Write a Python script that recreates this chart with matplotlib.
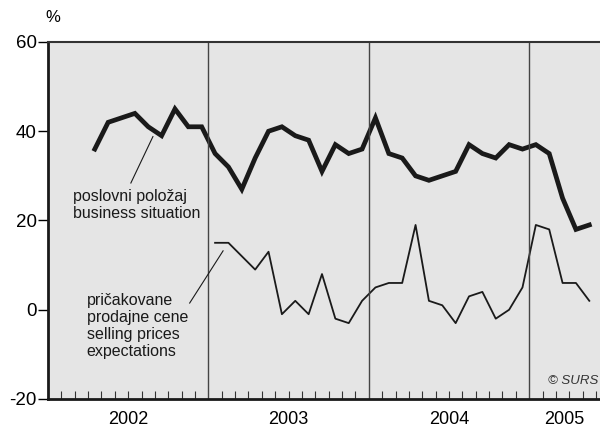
import matplotlib
matplotlib.use('Agg')
import matplotlib.pyplot as plt
import numpy as np

plt.rcParams['font.family'] = ['Liberation Sans', 'DejaVu Sans']

# monthly values, April 2002 .. May 2005 (business situation)
business = [36, 42, 43, 44, 41, 39, 45, 41, 41,
            35, 32, 27, 34, 40, 41, 39, 38, 31, 37, 35, 36,
            43, 35, 34, 30, 29, 30, 31, 37, 35, 34, 37, 36,
            37, 35, 25, 18, 19]
business_start = 3  # April 2002

# selling prices expectations, January 2003 .. May 2005
prices = [15, 15, 12, 9, 13, -1, 2, -1, 8, -2, -3, 2,
          5, 6, 6, 19, 2, 1, -3, 3, 4, -2, 0, 5,
          19, 18, 6, 6, 2]
prices_start = 12  # January 2003

years = ['2002', '2003', '2004', '2005']
yticks = [-20, 0, 20, 40, 60]

fig = plt.figure(figsize=(6, 4.32), dpi=100)
ax = fig.add_axes([0.08, 0.0764, 0.92, 0.8264])
ax.set_facecolor('#e5e5e5')

xmax = 41.3
xb = np.arange(len(business)) + business_start + 0.5
xp = np.arange(len(prices)) + prices_start + 0.5
ax.plot(xb, business, color='#1a1a1a', lw=3.4, solid_joinstyle='miter')
ax.plot(xp, prices, color='#1a1a1a', lw=1.3)

for b in [12, 24, 36]:
    ax.axvline(b, color='#444444', lw=1.0)

ax.set_xlim(0, xmax)
ax.set_ylim(-20, 60)

ax.set_yticks(yticks)
ax.set_yticklabels([str(v) for v in yticks], fontsize=13.5)
ax.tick_params(axis='y', direction='out', length=7, width=1, pad=1)

months = [m for m in range(1, 42) if m % 12 != 0]
ax.set_xticks(months)
ax.set_xticklabels([])
ax.tick_params(axis='x', direction='in', length=6, width=0.8, color='#333333')

for s in ['left', 'bottom']:
    ax.spines[s].set_linewidth(2)
    ax.spines[s].set_color('#1a1a1a')
ax.spines['top'].set_linewidth(1.5)
ax.spines['top'].set_color('#333333')
ax.spines['right'].set_visible(False)

# year labels
for i, y in enumerate(years):
    lo = i * 12
    hi = min(lo + 12, xmax)
    ax.text((lo + hi) / 2, -24.6, y, ha='center', va='center', fontsize=13)

ax.text(-0.2, 65.5, '%', ha='left', va='center', fontsize=12)

# annotations
ax.text(1.85, 23.4, 'poslovni položaj\nbusiness situation', fontsize=11.5,
        va='center', ha='left', linespacing=1.15, color='#1a1a1a')
ax.plot([6.2, 7.85], [28.4, 38.8], color='#1a1a1a', lw=0.8)

ax.text(2.9, -3.6, 'pričakovane\nprodajne cene\nselling prices\nexpectations',
        fontsize=11.5, va='center', ha='left', linespacing=1.15, color='#1a1a1a')
ax.plot([10.6, 13.1], [1.5, 13.2], color='#1a1a1a', lw=0.8)

ax.text(xmax - 0.12, -16, '© SURS', fontsize=9.5, style='italic', ha='right',
        va='center', color='#333333')

fig.savefig('out.png', dpi=100)
